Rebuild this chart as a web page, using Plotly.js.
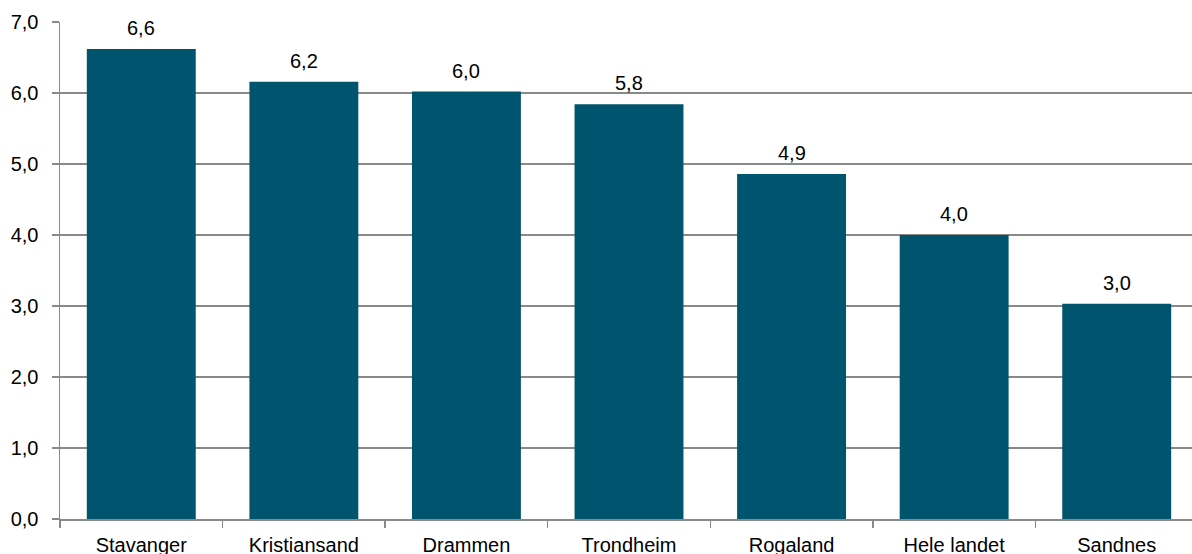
<!DOCTYPE html>
<html>
<head>
<meta charset="utf-8">
<script src="https://cdn.plot.ly/plotly-3.0.1.min.js"></script>
<style>
html,body{margin:0;padding:0;overflow:hidden;background:#fff;}
#chart{width:1198px;height:554px;}
</style>
</head>
<body>
<div id="chart"></div>
<script>
const categories = ["Stavanger", "Kristiansand", "Drammen", "Trondheim", "Rogaland", "Hele landet", "Sandnes"];
const values = [6.62, 6.16, 6.02, 5.84, 4.86, 4.0, 3.03];
const yTicks = [0, 1, 2, 3, 4, 5, 6, 7];
const yTickLabels = ["0,0", "1,0", "2,0", "3,0", "4,0", "5,0", "6,0", "7,0"];

const fontFam = "Liberation Sans, Arial, sans-serif";
const fs = 20;

const trace = {
  type: "bar",
  x: categories,
  y: values,
  marker: {color: "#01546E"},
  hoverinfo: "none"
};

const annotations = categories.map((c, i) => ({
  x: c,
  y: values[i],
  xref: "x",
  yref: "y",
  text: values[i].toFixed(1).replace(".", ","),
  showarrow: false,
  yanchor: "bottom",
  yshift: 8,
  font: {family: fontFam, size: fs, color: "#000"}
}));

const layout = {
  width: 1198,
  height: 554,
  margin: {l: 60, r: 0, t: 22, b: 35},
  paper_bgcolor: "#fff",
  plot_bgcolor: "#fff",
  showlegend: false,
  bargap: 0.33,
  font: {family: fontFam, size: fs, color: "#000"},
  xaxis: {
    type: "category",
    showline: true,
    linecolor: "#898989",
    linewidth: 1.5,
    ticks: "outside",
    tickson: "boundaries",
    ticklen: 7,
    tickcolor: "#898989",
    tickwidth: 1.5,
    ticklabelstandoff: 7,
    showgrid: false,
    tickfont: {family: fontFam, size: fs, color: "#000"}
  },
  yaxis: {
    range: [0, 7],
    tickvals: yTicks,
    ticktext: yTickLabels,
    showline: true,
    linecolor: "#898989",
    linewidth: 1.5,
    ticks: "outside",
    ticklen: 7,
    tickcolor: "#898989",
    tickwidth: 1.5,
    ticklabelstandoff: 9,
    showgrid: true,
    gridcolor: "#898989",
    gridwidth: 1.2,
    zeroline: false,
    tickfont: {family: fontFam, size: fs, color: "#000"}
  },
  annotations: annotations
};

Plotly.newPlot("chart", [trace], layout, {staticPlot: true, displayModeBar: false});
</script>
</body>
</html>
